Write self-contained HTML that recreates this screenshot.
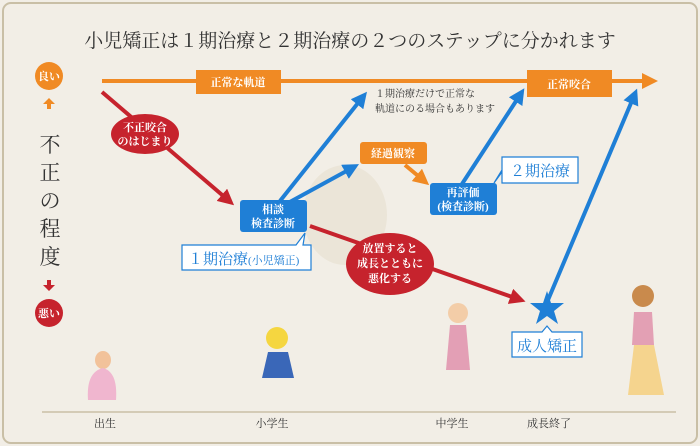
<!DOCTYPE html>
<html><head><meta charset="utf-8"><style>
html,body{margin:0;padding:0;background:#f2eee6;}
svg{display:block;}
text{font-family:"Liberation Serif","Noto Serif CJK SC",serif;}
.w{fill:#fff;font-weight:bold;font-size:11px;text-anchor:middle;}
</style></head><body>
<svg width="700" height="446" viewBox="0 0 700 446" xmlns="http://www.w3.org/2000/svg">
<defs>
<marker id="ao" markerWidth="4" markerHeight="4" refX="2" refY="2" orient="auto" markerUnits="strokeWidth"><path d="M0,0 L4,2 L0,4 z" fill="#f08a24"/></marker>
<marker id="ar" markerWidth="4" markerHeight="4" refX="2" refY="2" orient="auto" markerUnits="strokeWidth"><path d="M0,0 L4,2 L0,4 z" fill="#c6232d"/></marker>
<marker id="ab" markerWidth="4" markerHeight="4" refX="2" refY="2" orient="auto" markerUnits="strokeWidth"><path d="M0,0 L4,2 L0,4 z" fill="#1f7fd6"/></marker>
</defs>
<rect x="0" y="0" width="700" height="446" fill="#f2eee6"/>
<rect x="3" y="3" width="694" height="440" rx="8" fill="none" stroke="#c9bfa6" stroke-width="2"/>
<ellipse cx="345" cy="215" rx="42" ry="50" fill="#ebe5d8"/>
<text x="350" y="47" font-size="19" fill="#333" text-anchor="middle">小児矯正は１期治療と２期治療の２つのステップに分かれます</text>

<!-- left axis -->
<circle cx="49" cy="76" r="14" fill="#f08a24"/>
<text x="49" y="80" class="w" font-size="10">良い</text>
<path d="M49,98 l-6,6 h4 v5 h4 v-5 h4 z" fill="#f08a24"/>
<g font-size="21" fill="#333" text-anchor="middle">
<text x="50" y="152">不</text><text x="50" y="180">正</text><text x="50" y="208">の</text><text x="50" y="236">程</text><text x="50" y="264">度</text>
</g>
<path d="M49,291 l-6,-6 h4 v-5 h4 v5 h4 z" fill="#c6232d"/>
<circle cx="49" cy="313" r="14" fill="#c6232d"/>
<text x="49" y="317" class="w" font-size="10">悪い</text>

<!-- orange normal line -->
<line x1="102" y1="81" x2="650" y2="81" stroke="#f08a24" stroke-width="4" marker-end="url(#ao)"/>
<rect x="196" y="70" width="85" height="24" fill="#f08a24"/>
<text x="238" y="86" class="w">正常な軌道</text>
<rect x="527" y="70" width="85" height="27" fill="#f08a24"/>
<text x="569" y="88" class="w">正常咬合</text>

<!-- red lines -->
<line x1="102" y1="92" x2="228" y2="200" stroke="#c6232d" stroke-width="4" marker-end="url(#ar)"/>
<ellipse cx="145" cy="134" rx="34" ry="20" fill="#c6232d"/>
<text x="145" y="131" class="w">不正咬合</text>
<text x="145" y="145" class="w">のはじまり</text>
<line x1="310" y1="226" x2="518" y2="299" stroke="#c6232d" stroke-width="4" marker-end="url(#ar)"/>
<ellipse cx="390" cy="264" rx="44" ry="31" fill="#c6232d"/>
<text x="390" y="252" class="w">放置すると</text>
<text x="390" y="267" class="w">成長とともに</text>
<text x="390" y="282" class="w">悪化する</text>

<!-- blue arrows -->
<line x1="280" y1="201" x2="362" y2="98" stroke="#1f7fd6" stroke-width="4" marker-end="url(#ab)"/>
<line x1="288" y1="203" x2="352" y2="168" stroke="#1f7fd6" stroke-width="4" marker-end="url(#ab)"/>
<line x1="462" y1="184" x2="520" y2="95" stroke="#1f7fd6" stroke-width="4" marker-end="url(#ab)"/>
<line x1="548" y1="300" x2="634" y2="96" stroke="#1f7fd6" stroke-width="4" marker-end="url(#ab)"/>
<line x1="405" y1="165" x2="423" y2="180" stroke="#f08a24" stroke-width="4" marker-end="url(#ao)"/>

<text x="375" y="97" font-size="10" fill="#333">１期治療だけで正常な</text>
<text x="375" y="112" font-size="10" fill="#333">軌道にのる場合もあります</text>

<rect x="240" y="200" width="67" height="32" rx="3" fill="#1f7fd6"/>
<text x="273" y="213" class="w">相談</text>
<text x="273" y="227" class="w">検査診断</text>
<path d="M182,245 H296 L305,233 L303,245 H311 V270 H182 Z" fill="#fff" stroke="#1f7fd6" stroke-width="1.2"/>
<text x="188" y="264" font-size="15" fill="#1f7fd6">１期治療<tspan font-size="11">(小児矯正)</tspan></text>

<rect x="360" y="142" width="67" height="22" rx="3" fill="#f08a24"/>
<text x="393" y="157" class="w">経過観察</text>
<rect x="430" y="183" width="67" height="32" rx="3" fill="#1f7fd6"/>
<text x="463" y="196" class="w">再評価</text>
<text x="463" y="210" class="w">(検査診断)</text>
<path d="M502,157 H578 V183 H502 V172 L494,183 L502,170 Z" fill="#fff" stroke="#1f7fd6" stroke-width="1.2"/>
<text x="540" y="176" font-size="15" fill="#1f7fd6" text-anchor="middle">２期治療</text>

<polygon points="547,291 551,303 564,303 554,311 558,324 547,316 536,324 540,311 530,303 543,303" fill="#1f7fd6"/>
<path d="M512,332 H542 L547,326 L552,332 H582 V357 H512 Z" fill="#fff" stroke="#1f7fd6" stroke-width="1.2"/>
<text x="547" y="351" font-size="15" fill="#1f7fd6" text-anchor="middle">成人矯正</text>

<!-- figures -->
<ellipse cx="103" cy="360" rx="8" ry="9" fill="#f2c29a"/>
<path d="M88,400 Q86,372 103,368 Q118,372 116,400 Z" fill="#f0b6cf"/>
<circle cx="277" cy="338" r="11" fill="#f5d640"/>
<path d="M262,378 L268,352 L288,352 L294,378 Z" fill="#3a67b8"/>
<circle cx="458" cy="313" r="10" fill="#f3cda8"/>
<path d="M446,370 L450,325 L466,325 L470,370 Z" fill="#e39fb5"/>
<circle cx="643" cy="296" r="11" fill="#c98a4c"/>
<path d="M632,345 L634,312 L652,312 L654,345 Z" fill="#e3a0b4"/>
<path d="M628,395 L634,345 L654,345 L664,395 Z" fill="#f5d48e"/>

<line x1="42" y1="412" x2="676" y2="412" stroke="#c9bfa6" stroke-width="1.5"/>
<g font-size="11" fill="#333" text-anchor="middle">
<text x="105" y="427">出生</text><text x="272" y="427">小学生</text><text x="452" y="427">中学生</text><text x="549" y="427">成長終了</text>
</g>
</svg>
</body></html>
